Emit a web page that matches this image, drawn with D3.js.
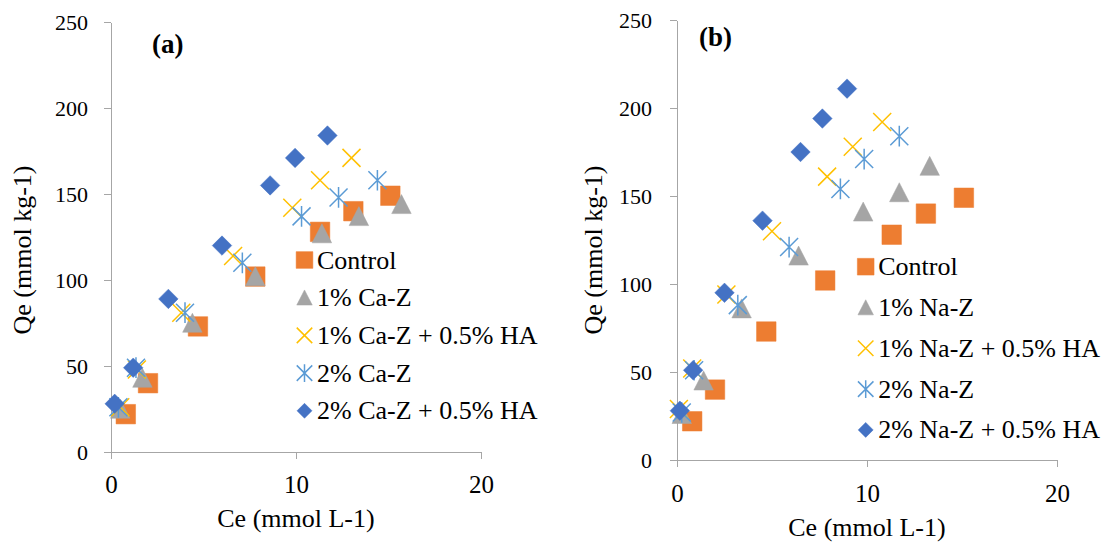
<!DOCTYPE html>
<meta charset="utf-8">
<style>
 body { margin: 0; background: #fff; }
 .axis path, .axis line { fill: none; stroke: #a6a6a6; stroke-width: 1.3; shape-rendering: crispEdges; }
 .axis text { fill: #000; }
 .title { font-size: 26px; fill: #000; }
 .panel-label { font-size: 27px; font-weight: bold; }
 .legend text { font-size: 26px; fill: #000; }
</style>
<body>
<svg width="1109" height="544"></svg>
<script src="https://d3js.org/d3.v7.min.js"></script>
<script>

 // shared
 var ctrlCe = [0.8, 2.0, 4.7, 7.8, 11.3, 13.1, 15.1];
 var ctrlQe = [22, 40, 73, 102, 128, 140, 149];

 // panel (a) Ca-Z
 var caZCe = [0.5, 1.7, 4.4, 7.8, 11.4, 13.4, 15.7];
 var caZQe = [25, 43, 75, 102, 127, 137, 144];
 var caZHACe = [0.5, 1.4, 3.8, 6.6, 9.8, 11.3, 13.0];
 var caZHAQe = [26, 48, 81, 114, 142, 158, 171];
 var caZ2Ce = [0.4, 1.35, 4.0, 7.1, 10.3, 12.3, 14.4];
 var caZ2Qe = [26, 49, 81, 110, 137, 148, 158];
 var caZ2HACe = [0.2, 1.2, 3.1, 6.0, 8.6, 9.95, 11.7];
 var caZ2HAQe = [28, 49, 89, 120, 155, 171, 184];

 // panel (b) Na-Z
 var naZCe = [0.25, 1.4, 3.4, 6.4, 9.8, 11.7, 13.3];
 var naZQe = [26, 45, 86, 116, 141, 152, 167];
 var naZHACe = [0.1, 0.8, 2.6, 5.0, 7.9, 9.25, 10.8];
 var naZHAQe = [29, 52, 94, 130, 161, 178, 192];
 var naZ2Ce = [0.25, 0.9, 3.2, 5.9, 8.6, 9.85, 11.7];
 var naZ2Qe = [27, 51, 88, 121, 154, 171, 184];
 var naZ2HACe = [0.15, 0.85, 2.5, 4.5, 6.5, 7.65, 8.95];
 var naZ2HAQe = [28, 51, 95, 136, 175, 194, 211];

 var xTicks = [0, 10, 20];
 var yTicks = [0, 50, 100, 150, 200, 250];

 var namesA = ['Control', '1% Ca-Z', '1% Ca-Z + 0.5% HA', '2% Ca-Z', '2% Ca-Z + 0.5% HA'];
 var namesB = ['Control', '1% Na-Z', '1% Na-Z + 0.5% HA', '2% Na-Z', '2% Na-Z + 0.5% HA'];
 var colors = ['#ED7D31', '#A5A5A5', '#FFC000', '#5B9BD5', '#4472C4'];
 var shapes = ['square', 'triangle', 'x', 'star', 'diamond'];

 // a single family name only; lists fell back to sans here
 var serif = "'Liberation Serif'";

 var svg = d3.select('svg');

 function shapePath(type, s) {
     var h = s / 2;
     if (type == 'square') return `M${-h},${-h}H${h}V${h}H${-h}Z`;
     if (type == 'triangle') return `M0,${-h}L${h},${h * 0.95}L${-h},${h * 0.95}Z`;
     if (type == 'diamond') return `M0,${-h}L${h},0L0,${h}L${-h},0Z`;
     if (type == 'x') return `M${-h},${-h}L${h},${h}M${h},${-h}L${-h},${h}`;
     // star = x plus vertical bar
     return `M${-h},${-h}L${h},${h}M${h},${-h}L${-h},${h}M0,${-h * 1.15}L0,${h * 1.15}`;
 }

 function drawMark(g, type, color, s) {
     var filled = (type != 'x' && type != 'star');
     g.append('path')
      .attr('d', shapePath(type, s))
      .style('fill', filled ? color : 'none')
      .style('stroke', color)
      .style('stroke-width', filled ? 0.5 : 1.5);
 }

 function drawPanel(p) {
     var x = d3.scaleLinear().domain([0, 20]).range(p.xr);
     var y = d3.scaleLinear().domain([0, 250]).range(p.yr);

     svg.append('g')
        .attr('class', 'axis')
        .attr('transform', `translate(0,${p.yr[0]})`)
        .call(d3.axisBottom(x).tickValues(xTicks).tickSize(7).tickSizeOuter(0).tickPadding(p.xPad))
        .attr('font-family', null)
        .selectAll('text').style('font-size', '25px').style('font-family', serif);

     svg.append('g')
        .attr('class', 'axis')
        .attr('transform', `translate(${p.xr[0]},0)`)
        .call(d3.axisLeft(y).tickValues(yTicks).tickSize(7).tickSizeOuter(0).tickPadding(p.yPad))
        .attr('font-family', null)
        .selectAll('text').style('font-size', '22px').style('font-family', serif);

     svg.append('text')
        .attr('class', 'title')
        .style('font-family', serif)
        .attr('x', (p.xr[0] + p.xr[1]) / 2)
        .attr('y', p.xTitleY)
        .attr('text-anchor', 'middle')
        .text('Ce (mmol L-1)');

     svg.append('text')
        .attr('class', 'title')
        .style('font-family', serif)
        .attr('transform', `translate(${p.yTitleX},${p.yTitleY}) rotate(-90)`)
        .attr('text-anchor', 'middle')
        .text('Qe (mmol kg-1)');

     svg.append('text')
        .attr('class', 'panel-label')
        .style('font-family', serif)
        .attr('x', p.labelX)
        .attr('y', p.labelY)
        .text(p.label);

     p.series.forEach(function(ser, i) {
         var pts = ser[0].map(function(c, j) { return [c, ser[1][j]]; });
         var g = svg.append('g');
         pts.forEach(function(d) {
             var m = g.append('g').attr('transform', `translate(${x(d[0])},${y(d[1])})`);
             drawMark(m, shapes[i], colors[i], shapes[i] == 'x' || shapes[i] == 'star' ? 18 : 19.5);
         });
     });

     var leg = svg.append('g').attr('class', 'legend');
     p.names.forEach(function(n, i) {
         var cy = p.legY + i * p.legStep;
         var m = leg.append('g').attr('transform', `translate(${p.legX},${cy})`);
         drawMark(m, shapes[i], colors[i], shapes[i] == 'square' ? 16.7 : (shapes[i] == 'diamond' ? 15 : 15.5));
         leg.append('text')
            .style('font-family', serif)
            .attr('x', p.legX + 12.5)
            .attr('y', cy + 8.5)
            .text(n);
     });
 }

 drawPanel({
     xr: [111, 481], yr: [452, 22], xPad: 16, yPad: 16,
     xTitleY: 527, yTitleX: 31, yTitleY: 250,
     label: '(a)', labelX: 152, labelY: 53,
     legX: 304.5, legY: 260, legStep: 37.7,
     names: namesA,
     series: [[ctrlCe, ctrlQe], [caZCe, caZQe], [caZHACe, caZHAQe], [caZ2Ce, caZ2Qe], [caZ2HACe, caZ2HAQe]]
 });

 drawPanel({
     xr: [677, 1057], yr: [460, 20], xPad: 17, yPad: 18,
     xTitleY: 536, yTitleX: 602, yTitleY: 250,
     label: '(b)', labelX: 699, labelY: 46,
     legX: 865.7, legY: 266.7, legStep: 40.8,
     names: namesB,
     series: [[ctrlCe, ctrlQe], [naZCe, naZQe], [naZHACe, naZHAQe], [naZ2Ce, naZ2Qe], [naZ2HACe, naZ2HAQe]]
 });

</script>
</body>
